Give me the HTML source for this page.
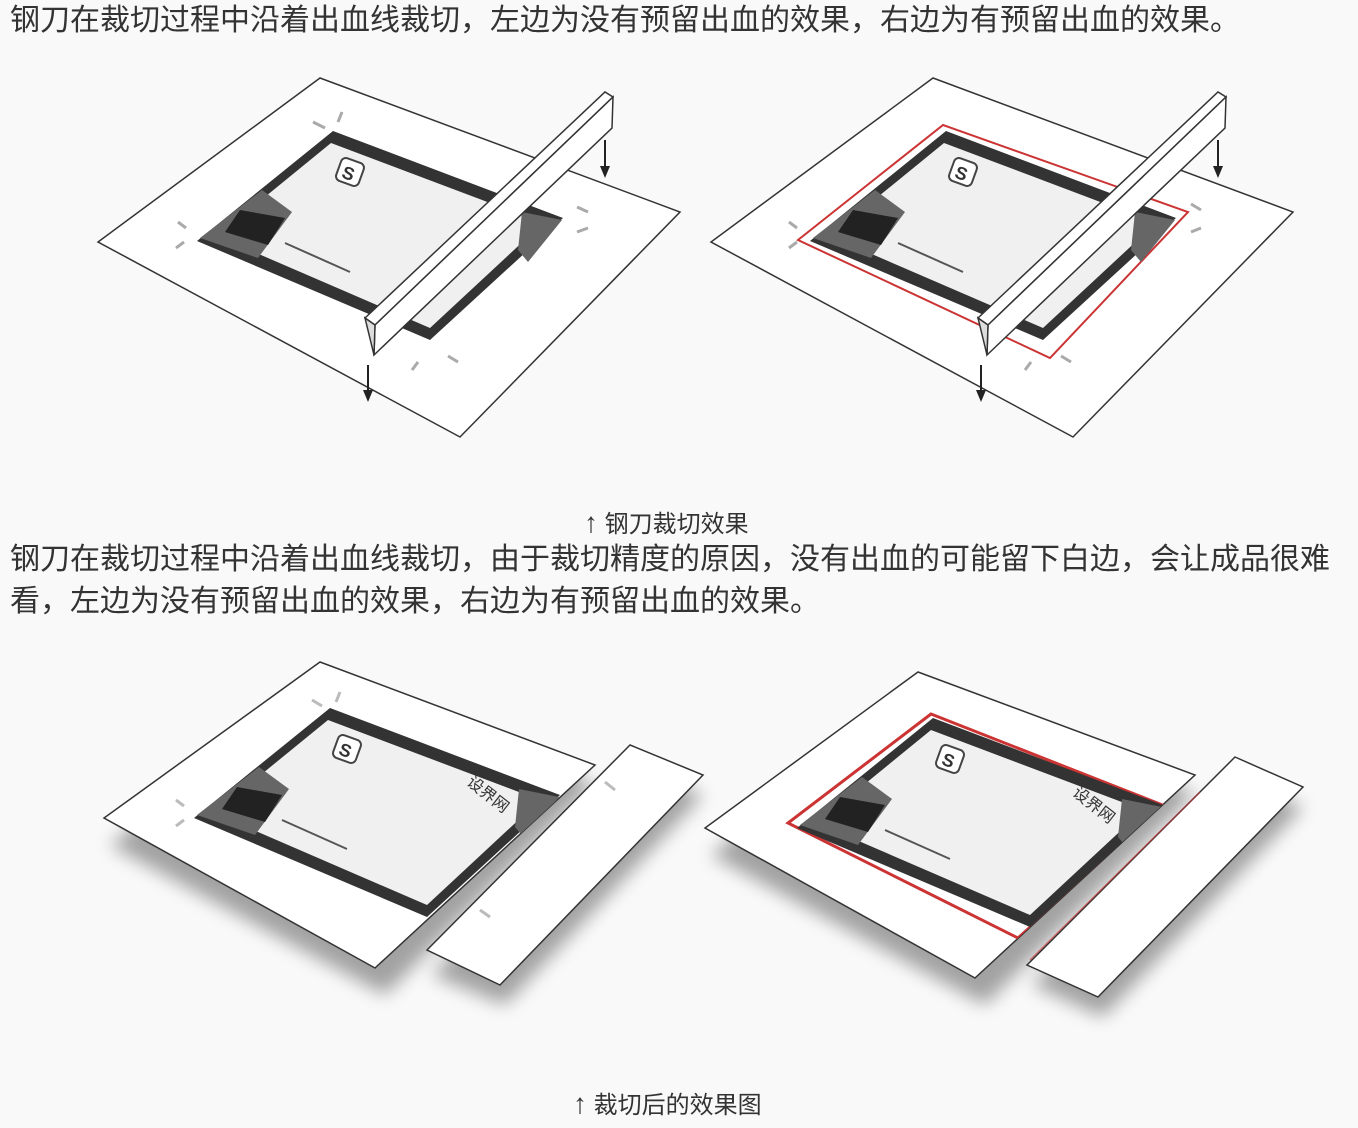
<!DOCTYPE html>
<html><head><meta charset="utf-8"><style>
html,body{margin:0;padding:0;background:#f9f9f9;}
body{width:1358px;height:1128px;position:relative;overflow:hidden;font-family:"Liberation Sans","Noto Sans CJK SC",sans-serif;color:#333;}
.t{position:absolute;left:10px;font-size:30px;line-height:42px;white-space:nowrap;}
.c{position:absolute;font-size:24px;white-space:nowrap;color:#333;}
svg{position:absolute;left:0;top:0;}
</style></head><body>
<div class="t" style="top:0px">钢刀在裁切过程中沿着出血线裁切，左边为没有预留出血的效果，右边为有预留出血的效果。</div>
<div class="c" style="left:584px;top:504px"><span style="font-size:28px">↑</span> 钢刀裁切效果</div>
<div class="t" style="top:539px">钢刀在裁切过程中沿着出血线裁切，由于裁切精度的原因，没有出血的可能留下白边，会让成品很难</div>
<div class="t" style="top:581px">看，左边为没有预留出血的效果，右边为有预留出血的效果。</div>
<div class="c" style="left:573px;top:1085px"><span style="font-size:28px">↑</span> 裁切后的效果图</div>

<svg width="1358" height="1128" viewBox="0 0 1358 1128">
<defs>
<filter id="sh" x="-20%" y="-20%" width="140%" height="150%"><feGaussianBlur stdDeviation="9"/></filter>
<g id="card">
  <polygon points="333,131 563,218 430,340 197,241" fill="#333"/>
  <polygon points="331,143 543,223 430,328 217,236" fill="#f0f0f0"/>
  <polygon points="262,190 292,212 258,258 200,238" fill="#666"/>
  <polygon points="240,210 285,218 268,245 225,232" fill="#222"/>
  <polygon points="522,212 562,220 528,262 518,250" fill="#666"/>
  <rect x="338" y="160" width="24" height="24" rx="5" fill="#fff" stroke="#444" stroke-width="2" transform="rotate(20 350 172)"/>
  <text x="343" y="180" font-size="18" font-weight="bold" fill="#333" transform="rotate(20 350 172)">S</text>
  <line x1="285" y1="243" x2="350" y2="272" stroke="#555" stroke-width="2"/>
</g>
<clipPath id="clBL"><polygon points="320,662 595,765 375,968 104,818"/></clipPath>
<clipPath id="clBR"><polygon points="918,672 1195,775 975,978 705,828"/></clipPath>
</defs>

<!-- top left -->
<polygon points="320,78 680,212 460,437 98,242" fill="#fff" stroke="#333" stroke-width="1.5"/>
<use href="#card"/>
<g stroke="#aaa" stroke-width="3">
<line x1="313" y1="122" x2="325" y2="128"/><line x1="342" y1="112" x2="338" y2="122"/>
<line x1="178" y1="222" x2="186" y2="228"/><line x1="176" y1="248" x2="184" y2="242"/>
<line x1="577" y1="207" x2="588" y2="212"/><line x1="577" y1="232" x2="588" y2="228"/>
<line x1="412" y1="370" x2="418" y2="362"/><line x1="448" y1="356" x2="458" y2="362"/>
</g>
<polygon points="365,318 605,92 613,97 375,325" fill="#fff" stroke="#333" stroke-width="1.5"/>
<polygon points="375,325 613,97 612,128 374,355" fill="#fff" stroke="#333" stroke-width="1.5"/>
<polygon points="365,318 375,325 374,355" fill="#ddd" stroke="#333" stroke-width="1.5"/>
<line x1="605" y1="140" x2="605" y2="170" stroke="#222" stroke-width="2"/><polygon points="600,166 610,166 605,178" fill="#222"/>
<line x1="368" y1="365" x2="368" y2="393" stroke="#222" stroke-width="2"/><polygon points="363,390 373,390 368,402" fill="#222"/>

<!-- top right -->
<g transform="translate(613,0)">
<polygon points="320,78 680,212 460,437 98,242" fill="#fff" stroke="#333" stroke-width="1.5"/>
<polygon points="330,125 575,212 437,358 185,240" fill="none" stroke="#c33" stroke-width="2"/>
<use href="#card"/>
<g stroke="#aaa" stroke-width="3">
<line x1="578" y1="204" x2="588" y2="210"/><line x1="578" y1="232" x2="588" y2="228"/>
<line x1="176" y1="222" x2="184" y2="228"/><line x1="176" y1="248" x2="184" y2="242"/>
<line x1="412" y1="370" x2="418" y2="362"/><line x1="448" y1="356" x2="458" y2="362"/>
</g>
<polygon points="365,318 605,92 613,97 375,325" fill="#fff" stroke="#333" stroke-width="1.5"/>
<polygon points="375,325 613,97 612,128 374,355" fill="#fff" stroke="#333" stroke-width="1.5"/>
<polygon points="365,318 375,325 374,355" fill="#ddd" stroke="#333" stroke-width="1.5"/>
<line x1="605" y1="140" x2="605" y2="170" stroke="#222" stroke-width="2"/><polygon points="600,166 610,166 605,178" fill="#222"/>
<line x1="368" y1="365" x2="368" y2="393" stroke="#222" stroke-width="2"/><polygon points="363,390 373,390 368,402" fill="#222"/>
</g>

<!-- bottom left -->
<polygon points="320,680 595,783 385,995 110,845" fill="#000" opacity="0.35" filter="url(#sh)"/>
<polygon points="630,765 703,795 505,1005 432,975" fill="#000" opacity="0.35" filter="url(#sh)"/>
<polygon points="320,662 595,765 375,968 104,818" fill="#fff" stroke="#333" stroke-width="1.5"/>
<g clip-path="url(#clBL)"><use href="#card" transform="translate(-3,577)"/></g>
<text x="462" y="795" font-size="16" fill="#333" transform="rotate(38 480 795)">设界网</text>
<polygon points="630,745 703,775 500,985 427,950" fill="#fff" stroke="#333" stroke-width="1.5"/>
<g stroke="#bbb" stroke-width="3">
<line x1="176" y1="800" x2="184" y2="806"/><line x1="176" y1="826" x2="184" y2="820"/>
<line x1="312" y1="700" x2="322" y2="706"/><line x1="340" y1="692" x2="336" y2="702"/>
<line x1="605" y1="782" x2="615" y2="790"/><line x1="480" y1="910" x2="490" y2="917"/>
</g>

<!-- bottom right -->
<polygon points="918,690 1195,793 985,1005 711,855" fill="#000" opacity="0.35" filter="url(#sh)"/>
<polygon points="1235,777 1303,807 1103,1017 1032,985" fill="#000" opacity="0.35" filter="url(#sh)"/>
<polygon points="918,672 1195,775 975,978 705,828" fill="#fff" stroke="#333" stroke-width="1.5"/>
<g clip-path="url(#clBR)">
<polygon points="931,714 1165,806 1018,938 788,823" fill="none" stroke="#c33" stroke-width="3"/>
<use href="#card" transform="translate(600,587)"/>
</g>
<text x="1068" y="805" font-size="16" fill="#333" transform="rotate(38 1085 805)">设界网</text>
<polygon points="1235,757 1303,787 1098,997 1027,965" fill="#fff" stroke="#333" stroke-width="1.5"/>
<line x1="1200" y1="792" x2="1030" y2="960" stroke="#c33" stroke-width="1.5" opacity="0.6"/>
</svg>
</body></html>
